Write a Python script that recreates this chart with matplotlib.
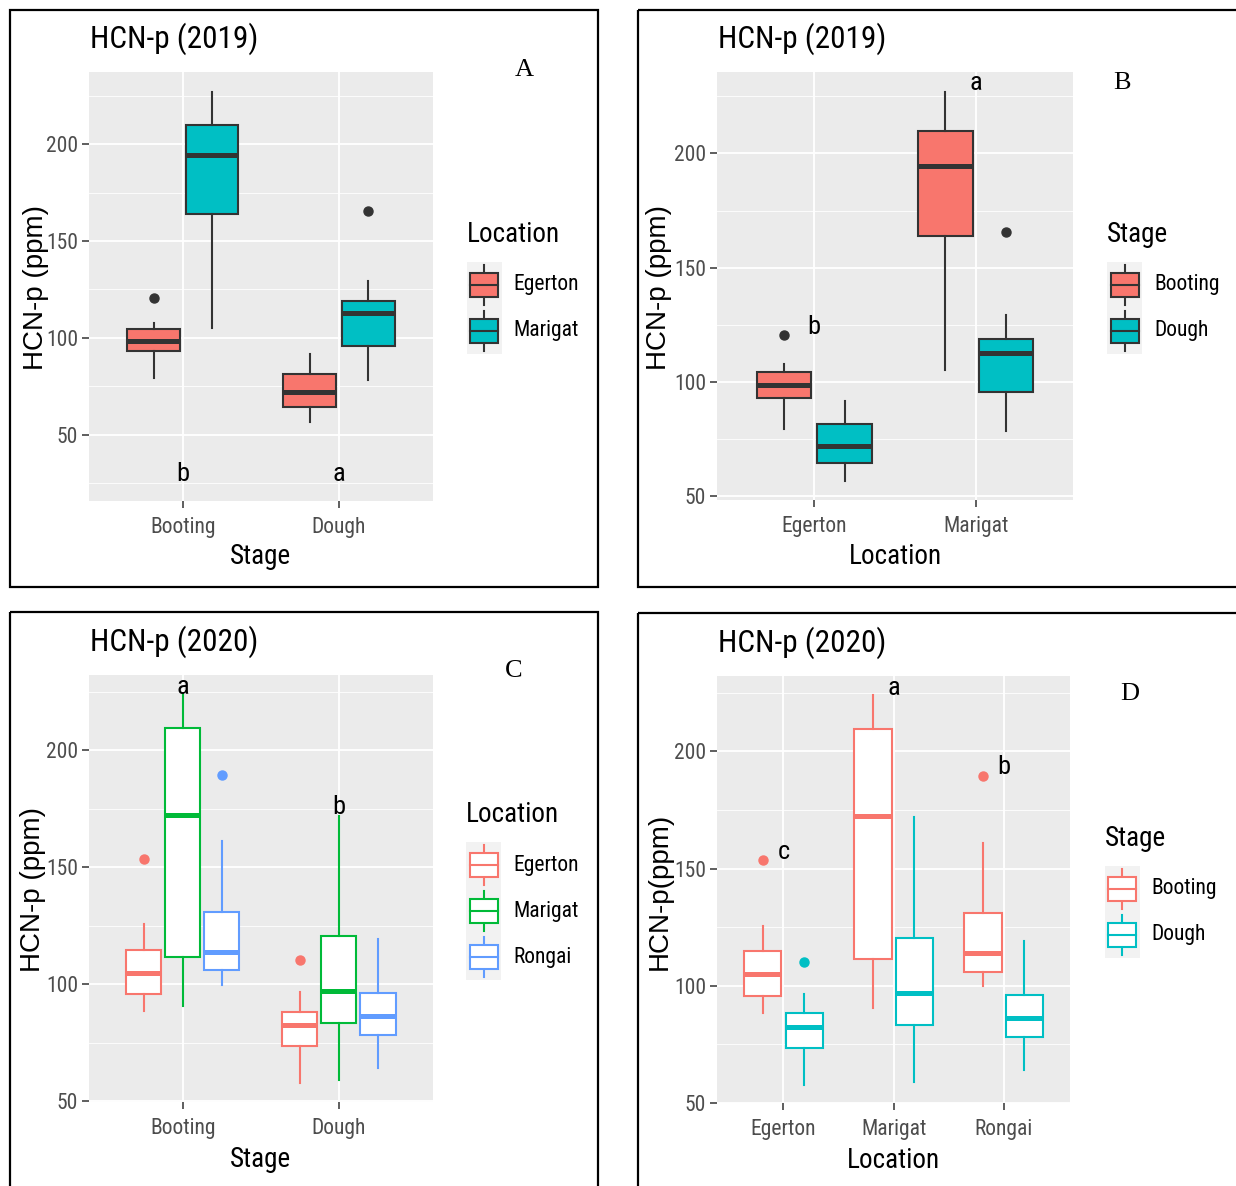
import numpy as np
import matplotlib.pyplot as plt
import matplotlib.font_manager as fm
from matplotlib.patches import Rectangle

# ---- data ----
stages = ['Booting', 'Dough']
locs19 = ['Egerton', 'Marigat']
locs20 = ['Egerton', 'Marigat', 'Rongai']

# 2019, indexed [stage][location]
whislo19 = [[79.3, 105.2], [56.8, 78.5]]
q1_19 = [[93.2, 163.8], [64.4, 95.8]]
med19 = [[98.5, 194.6], [72.2, 112.6]]
q3_19 = [[104.4, 209.9], [81.5, 118.9]]
whishi19 = [[107.9, 226.9], [91.5, 129.5]]
fliers19 = [[[120.6], []], [[], [165.5]]]

# 2020, indexed [stage][location]
whislo20 = [[88.3, 90.6, 99.7], [57.6, 59.0, 64.0]]
q1_20 = [[95.7, 111.5, 105.9], [73.3, 83.2, 78.2]]
med20 = [[104.9, 172.3, 113.8], [82.3, 97.0, 86.2]]
q3_20 = [[114.7, 209.5, 130.9], [88.2, 120.4, 96.0]]
whishi20 = [[125.5, 224.0, 161.0], [96.6, 172.0, 119.3]]
fliers20 = [[[153.5], [], [189.5]], [[110.1], [], []]]

# significance letters
letters_A = ['b', 'a']
letters_A_y = [30, 30]
letters_B = ['b', 'a']
letters_B_y = [124, 230.6]
letters_C = ['a', 'b']
letters_C_y = [227.2, 175.8]
letters_D = ['c', 'a', 'b']
letters_D_y = [157.1, 227, 193.2]

hue2 = ['#F8766D', '#00BFC4']
hue3 = ['#F8766D', '#00BA38', '#619CFF']

# look for a condensed sans; otherwise use Liberation Sans a bit smaller
NARROW = None
for fam, st in [('Liberation Sans Narrow', 'normal'), ('Roboto Condensed', 'normal'),
                ('DejaVu Sans', 'condensed'), ('Open Sans', 'condensed'), ('Roboto', 'condensed')]:
    try:
        path = fm.findfont(fm.FontProperties(family=fam, stretch=st), fallback_to_default=False)
    except Exception:
        continue
    if 'Narrow' in path or 'Condensed' in path:
        NARROW = dict(family=fam, stretch=st)
        break
if NARROW is None:
    NARROW = dict(family=['Liberation Sans', 'DejaVu Sans'])
    k = 0.9
else:
    k = 1.0
REG = ['Liberation Sans', 'DejaVu Sans']
SERIF = ['Liberation Serif', 'DejaVu Serif']

W, H = 1236, 1186
fig = plt.figure(figsize=(W / 100, H / 100), dpi=100)
fig.patch.set_facecolor('white')

# overlay in pixel coordinates for frames, titles and legends
ov = fig.add_axes([0, 0, 1, 1], zorder=-5)
ov.set_xlim(0, W)
ov.set_ylim(H, 0)
ov.axis('off')


def stat19(s, l):
    return dict(whislo=whislo19[s][l], q1=q1_19[s][l], med=med19[s][l],
                q3=q3_19[s][l], whishi=whishi19[s][l], fliers=fliers19[s][l])


def stat20(s, l):
    return dict(whislo=whislo20[s][l], q1=q1_20[s][l], med=med20[s][l],
                q3=q3_20[s][l], whishi=whishi20[s][l], fliers=fliers20[s][l])


def panel(box, cats, ngroups, getstat, colors, filled, ylim, letters, letters_y):
    l, t, r, b = box
    ax = fig.add_axes([l / W, 1 - b / H, (r - l) / W, (b - t) / H])
    ax.set_facecolor('#EBEBEB')
    for sp in ax.spines.values():
        sp.set_visible(False)
    ax.set_axisbelow(True)
    step = 0.75 / ngroups
    for i in range(len(cats)):
        for j in range(ngroups):
            x = i + 1 + (j - (ngroups - 1) / 2) * step
            c = colors[j]
            edge = '#333333' if filled else c
            face = c if filled else 'white'
            ax.bxp([getstat(i, j)], positions=[x], widths=[step * 0.9],
                   patch_artist=True, showcaps=False, manage_ticks=False,
                   boxprops=dict(facecolor=face, edgecolor=edge, linewidth=1.5),
                   whiskerprops=dict(color=edge, linewidth=1.5),
                   medianprops=dict(color=edge, linewidth=3.6, solid_capstyle='butt'),
                   flierprops=dict(marker='o', markerfacecolor=edge, markeredgecolor=edge,
                                   markersize=6.5))
    for i, (s, y) in enumerate(zip(letters, letters_y)):
        ax.text(i + 1, y, s, ha='center', va='center', fontsize=19 * k, **NARROW)
    ax.set_xlim(0.4, len(cats) + 0.6)
    ax.set_ylim(*ylim)
    ax.set_xticks(range(1, len(cats) + 1))
    ax.set_xticklabels(cats)
    ax.set_yticks([50, 100, 150, 200])
    ax.set_yticks([v for v in [25, 75, 125, 175, 225] if ylim[0] < v < ylim[1]], minor=True)
    ax.grid(which='major', color='white', linewidth=1.3)
    ax.grid(which='minor', axis='y', color='white', linewidth=0.6)
    ax.tick_params(which='major', length=5, width=1.1, color='#333333',
                   labelcolor='#4D4D4D', labelsize=15.5 * k, pad=3)
    ax.tick_params(axis='x', which='major', pad=6.5)
    ax.tick_params(which='minor', length=0)
    for lab in ax.get_xticklabels() + ax.get_yticklabels():
        lab.set_family(NARROW['family'])
        if 'stretch' in NARROW:
            lab.set_stretch(NARROW['stretch'])
    return ax


def legend(x0, top, title, title_y, labels, colors, filled, key_w=35, key_h=46, lab_x=None):
    ov.text(x0, title_y, title, ha='left', va='center', fontsize=19.5 * k, **NARROW)
    n = len(labels)
    ov.add_patch(Rectangle((x0, top), key_w, key_h * n, facecolor='#F2F2F2', edgecolor='none'))
    for m, (lab, c) in enumerate(zip(labels, colors)):
        cy = top + key_h * (m + 0.5)
        edge = '#333333' if filled else c
        face = c if filled else 'white'
        cx = x0 + key_w / 2
        ov.plot([cx, cx], [cy - 20, cy + 20], color=edge, lw=1.5)
        ov.add_patch(Rectangle((x0 + 3.5, cy - 12), key_w - 7, 24, facecolor=face,
                               edgecolor=edge, lw=1.5, zorder=3))
        ov.plot([x0 + 3.5, x0 + key_w - 3.5], [cy, cy], color=edge, lw=1.5, zorder=4)
        ov.text(lab_x, cy, lab, ha='left', va='center', fontsize=15.5 * k, **NARROW)


# frames around the four panels
for (fx0, fy0, fx1, fy1) in [(9.7, 9.6, 598.3, 587.4), (637.7, 9.6, 1245, 587.4),
                             (9.7, 612.3, 598.3, 1195), (637.7, 613, 1245, 1195)]:
    ov.add_patch(Rectangle((fx0, fy0), fx1 - fx0, fy1 - fy0, facecolor='none',
                           edgecolor='black', lw=1.6))

# A
panel((89.1, 71.6, 432.6, 501.3), stages, 2, stat19, hue2, True, (15.7, 237.4),
      letters_A, letters_A_y)
# B
panel((717.4, 71.6, 1072.6, 500.0), locs19, 2, lambda i, j: stat19(j, i), hue2, True,
      (48.4, 235.8), letters_B, letters_B_y)
# C
panel((89.1, 674.7, 432.6, 1101.9), stages, 3, stat20, hue3, False, (49.6, 232.3),
      letters_C, letters_C_y)
# D
panel((717.4, 675.9, 1069.8, 1103.4), locs20, 2, lambda i, j: stat20(j, i), hue2, False,
      (49.8, 232.2), letters_D, letters_D_y)

# titles, axis titles, panel letters
for x, y, s in [(89.5, 38.3, 'HCN-p (2019)'), (718, 38.3, 'HCN-p (2019)'),
                (89.5, 641.9, 'HCN-p (2020)'), (718.2, 643, 'HCN-p (2020)')]:
    ov.text(x, y, s, ha='left', va='center', fontsize=22.5 * k, **NARROW)
for x, y, s in [(260.6, 557, 'Stage'), (895, 557, 'Location'),
                (260.6, 1159.4, 'Stage'), (893.8, 1160.6, 'Location')]:
    ov.text(x, y, s, ha='center', va='center', fontsize=19.5 * k, **NARROW)
for x, y, s in [(36, 287, 'HCN-p (ppm)'), (659, 287, 'HCN-p (ppm)'),
                (33, 889.6, 'HCN-p (ppm)'), (660, 891.5, 'HCN-p(ppm)')]:
    ov.text(x, y, s, ha='center', va='center', rotation=90, fontsize=20, family=REG)
for x, y, s in [(524, 70, 'A'), (1122, 83, 'B'), (513.5, 671, 'C'), (1130, 694.5, 'D')]:
    ov.text(x, y, s, ha='center', va='center', fontsize=19, family=SERIF)

# legends
legend(466.7, 261.7, 'Location', 235, locs19, hue2, True, lab_x=513)
legend(1107, 261.7, 'Stage', 235, stages, hue2, True, lab_x=1154)
legend(466, 842, 'Location', 815, locs20, hue3, False, lab_x=513)
legend(1104.5, 865.5, 'Stage', 839, stages, hue2, False, lab_x=1151)

fig.savefig('out.png', dpi=100)
